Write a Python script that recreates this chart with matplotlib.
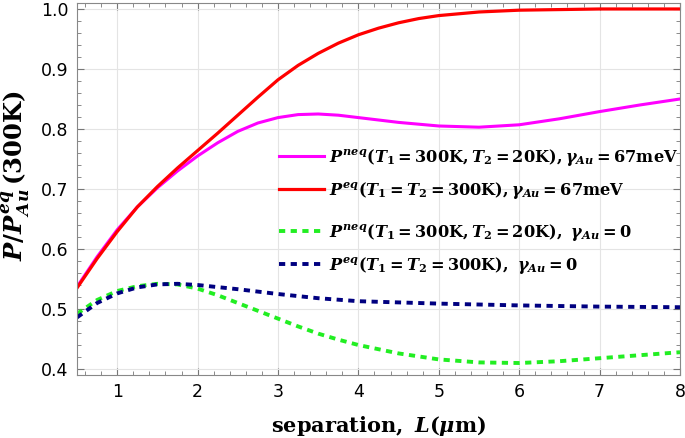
import matplotlib
matplotlib.use("Agg")
import matplotlib.pyplot as plt
from matplotlib.ticker import MultipleLocator

plt.rcParams['mathtext.fontset'] = 'custom'
plt.rcParams['mathtext.rm'] = 'DejaVu Serif:bold'
plt.rcParams['mathtext.it'] = 'DejaVu Serif:italic:bold'
plt.rcParams['mathtext.bf'] = 'DejaVu Serif:bold'
plt.rcParams['mathtext.bfit'] = 'DejaVu Serif:italic:bold'

# values
x_red = [0.5, 0.75, 1, 1.25, 1.5, 1.75, 2, 2.25, 2.5, 2.75, 3, 3.25, 3.5, 3.75,
         4, 4.25, 4.5, 4.75, 5, 5.5, 6, 6.5, 7, 8]
y_red = [0.535, 0.584, 0.629, 0.670, 0.704, 0.735, 0.764, 0.793, 0.823, 0.853,
         0.882, 0.906, 0.926, 0.943, 0.957, 0.968, 0.977, 0.984, 0.989, 0.995,
         0.998, 0.999, 1.0, 1.0]

x_mag = [0.5, 0.75, 1, 1.25, 1.5, 1.75, 2, 2.25, 2.5, 2.75, 3, 3.25, 3.5, 3.75,
         4, 4.5, 5, 5.5, 6, 6.5, 7, 7.5, 8]
y_mag = [0.537, 0.587, 0.632, 0.670, 0.702, 0.730, 0.755, 0.777, 0.796, 0.810,
         0.819, 0.824, 0.825, 0.823, 0.819, 0.811, 0.805, 0.803, 0.807, 0.817,
         0.829, 0.840, 0.850]

x_grn = [0.5, 0.75, 1, 1.25, 1.5, 1.75, 2, 2.25, 2.5, 2.75, 3, 3.25, 3.5, 3.75,
         4, 4.5, 5, 5.5, 6, 6.5, 7, 7.5, 8]
y_grn = [0.492, 0.515, 0.530, 0.538, 0.542, 0.541, 0.534, 0.523, 0.510, 0.497,
         0.484, 0.471, 0.459, 0.449, 0.440, 0.426, 0.416, 0.411, 0.410, 0.413,
         0.418, 0.423, 0.428]

x_blu = [0.5, 0.75, 1, 1.25, 1.5, 1.75, 2, 2.5, 3, 3.5, 4, 4.5, 5, 6, 7, 8]
y_blu = [0.486, 0.510, 0.526, 0.536, 0.541, 0.542, 0.540, 0.533, 0.525, 0.518,
         0.513, 0.511, 0.509, 0.506, 0.504, 0.503]

lab_mag = r'$P^{neq}(T_1=300\mathrm{K},T_2=20\mathrm{K}),\gamma_{Au}=67\mathrm{meV}$'
lab_red = r'$P^{eq}(T_1=T_2=300\mathrm{K}),\gamma_{Au}=67\mathrm{meV}$'
lab_grn = r'$P^{neq}(T_1=300\mathrm{K},T_2=20\mathrm{K}),\ \gamma_{Au}=0$'
lab_blu = r'$P^{eq}(T_1=T_2=300\mathrm{K}),\ \gamma_{Au}=0$'

fig = plt.figure(figsize=(6.85, 4.38), dpi=100)
ax = fig.add_axes([0.1124, 0.1438, 0.8803, 0.8494])

l1, = ax.plot(x_mag, y_mag, color='#ff00ff', lw=2.2, label=lab_mag)
l2, = ax.plot(x_red, y_red, color='#ff0000', lw=2.3, label=lab_red)
l3, = ax.plot(x_grn, y_grn, color='#22ee22', lw=2.8, dashes=(1.6, 1.4), label=lab_grn)
l4, = ax.plot(x_blu, y_blu, color='#000080', lw=2.8, dashes=(1.6, 1.4), label=lab_blu)

ax.set_xlim(0.5, 8)
ax.set_ylim(0.39, 1.01)
ax.xaxis.set_major_locator(MultipleLocator(1))
ax.xaxis.set_minor_locator(MultipleLocator(0.2))
ax.yaxis.set_major_locator(MultipleLocator(0.1))
ax.yaxis.set_minor_locator(MultipleLocator(0.02))
ax.tick_params(which='both', direction='in', top=True, right=True, color='#777777')
ax.tick_params(which='major', length=5, labelsize=12.5, pad=6)
ax.tick_params(which='minor', length=3)
ax.grid(True, color='#e4e4e4', lw=0.8)
for s in ax.spines.values():
    s.set_color('#888888')

ax.set_xlabel(r'$\mathrm{separation,}\ L(\mu\mathrm{m})$', fontsize=15, labelpad=9)
ax.set_ylabel(r'$P/P^{eq}_{Au}\,(\mathrm{300K})$', fontsize=17.5)
ax.yaxis.set_label_coords(-0.075, 0.535)

leg_kw = dict(loc='upper left', frameon=False, fontsize=11.6, handlelength=2.8,
              handletextpad=0.3, labelspacing=0.75, borderpad=0)
leg1 = ax.legend(handles=[l1, l2], bbox_to_anchor=(0.322, 0.635), **leg_kw)
ax.add_artist(leg1)
ax.legend(handles=[l3, l4], bbox_to_anchor=(0.322, 0.434), **leg_kw)

fig.savefig('out.png', dpi=100)
